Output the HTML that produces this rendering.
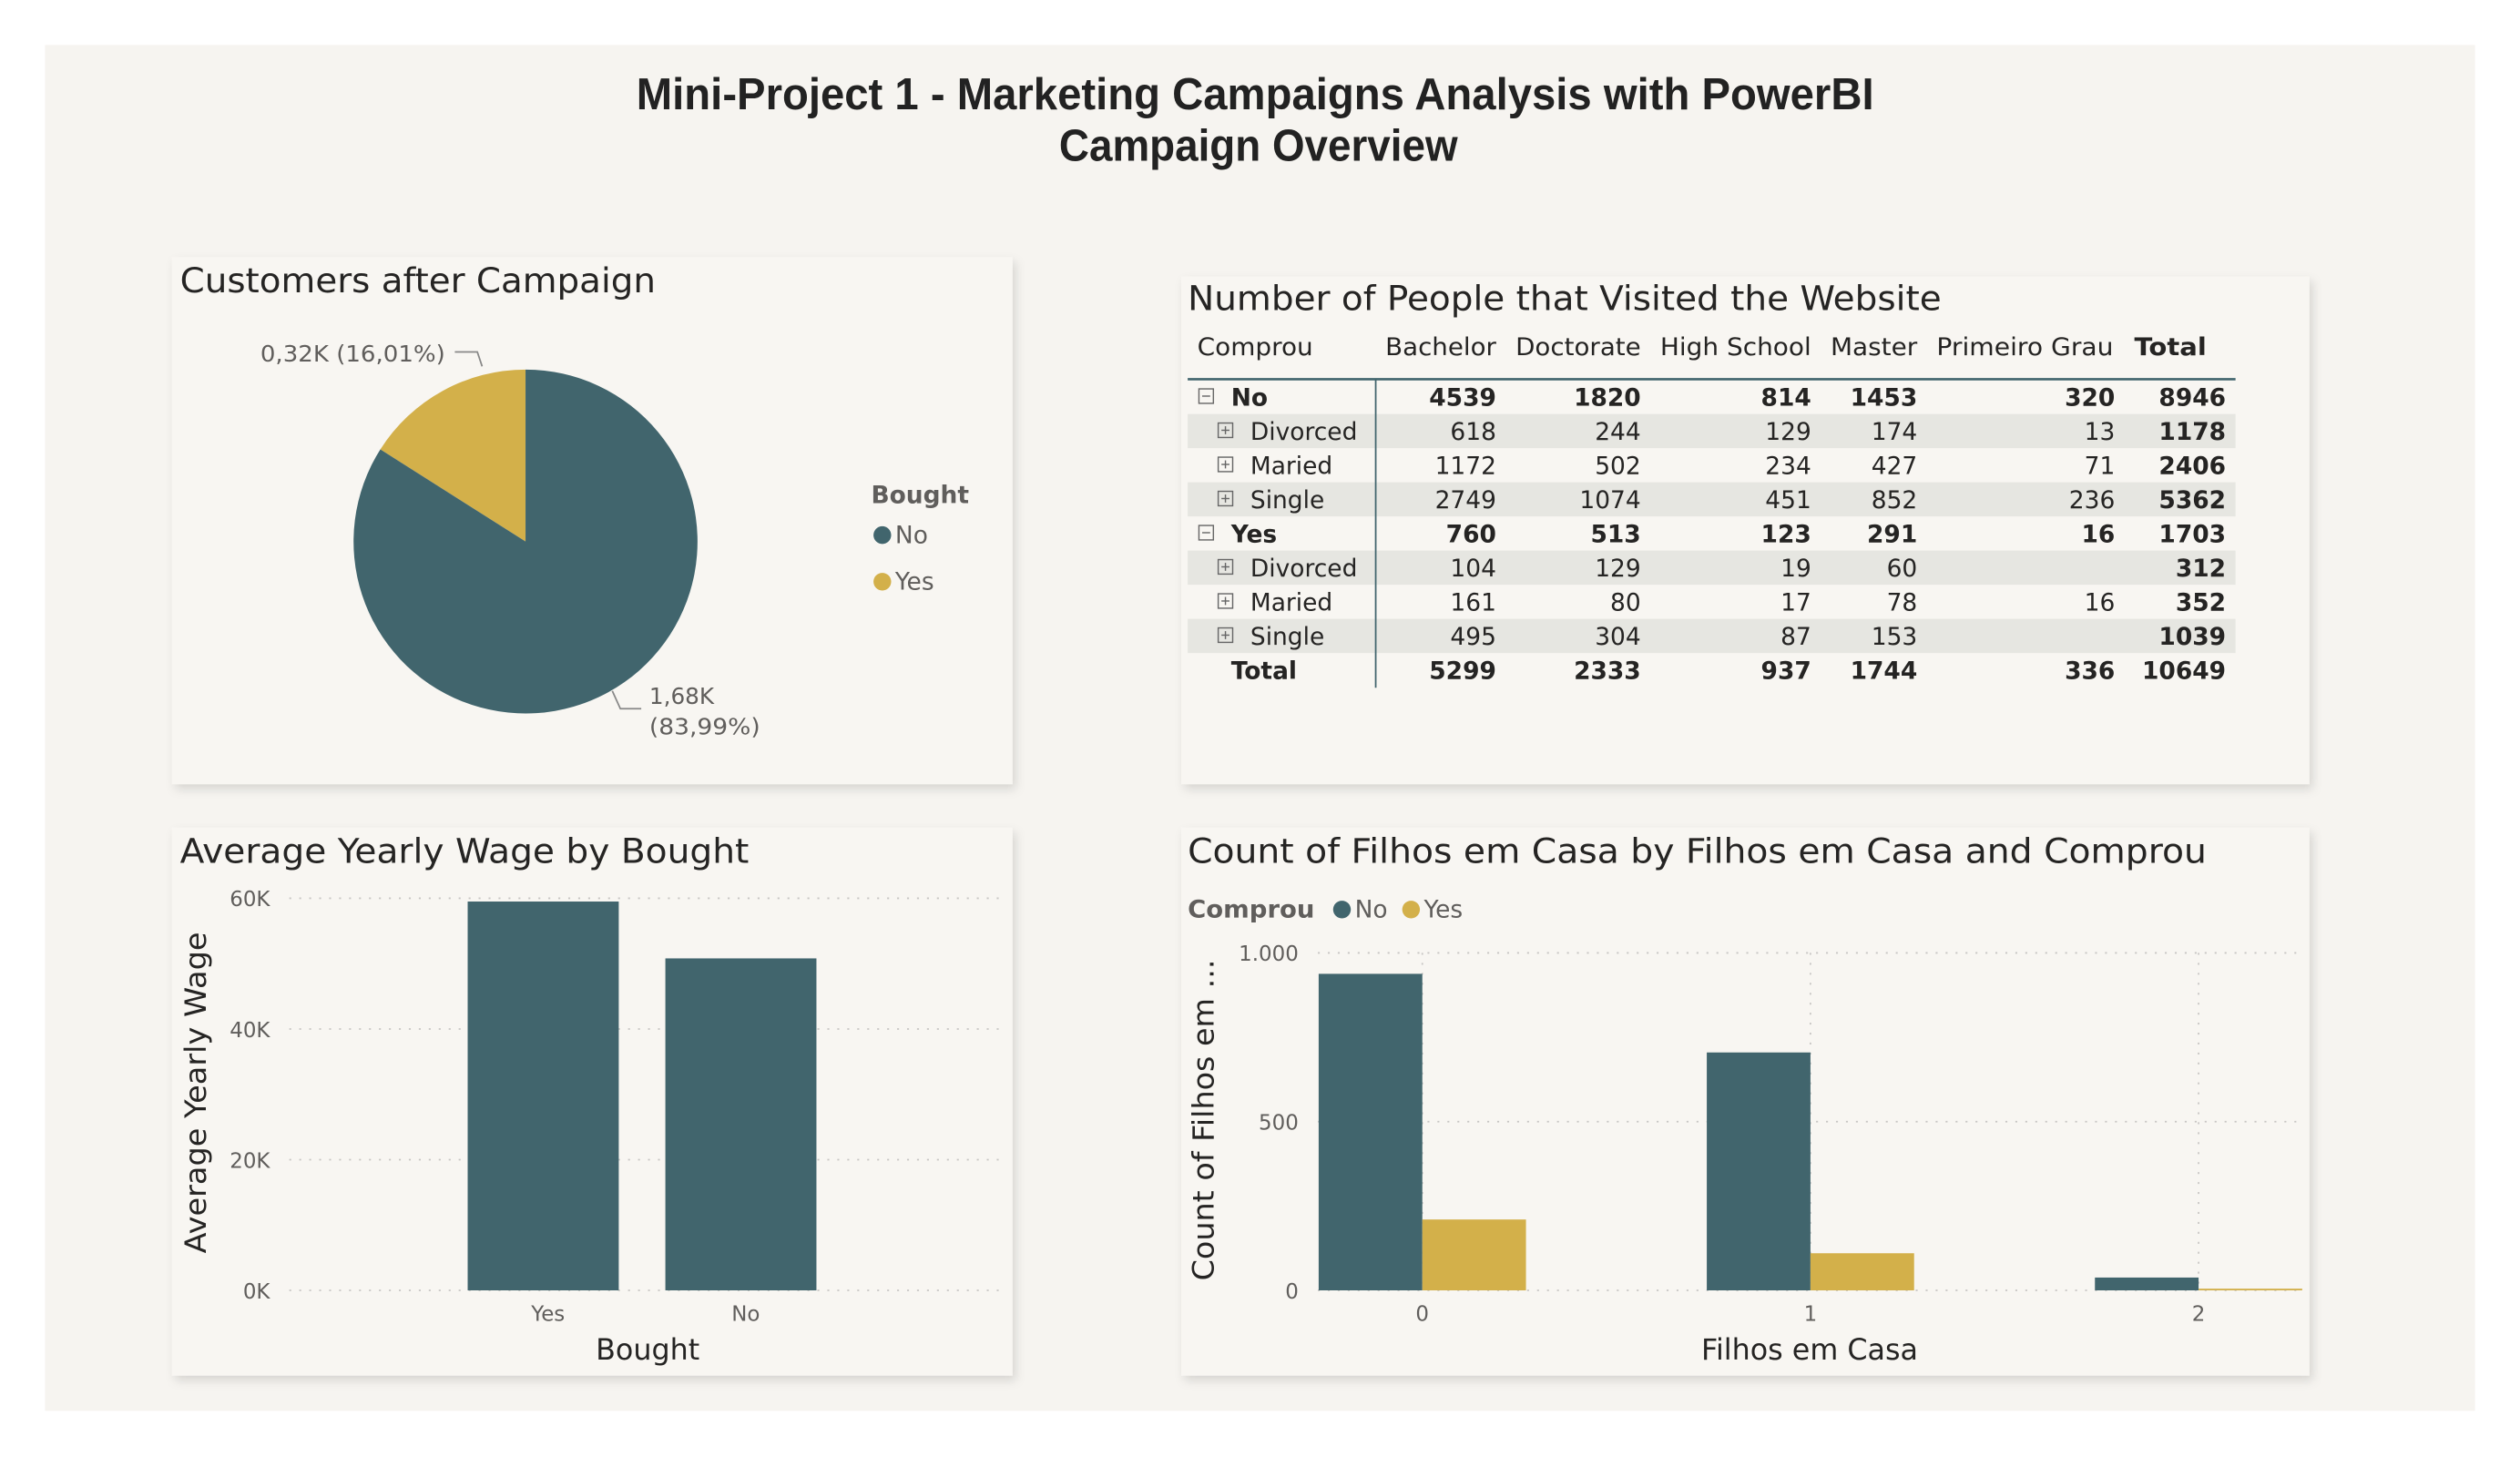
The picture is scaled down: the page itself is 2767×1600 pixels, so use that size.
<!DOCTYPE html>
<html><head><meta charset="utf-8">
<style>
html,body{margin:0;padding:0;background:#fff;width:2767px;height:1600px;overflow:hidden}
svg{display:block}
text{font-family:"Liberation Sans Narrow","Liberation Sans",sans-serif}
.dv{font-family:"DejaVu Sans","Liberation Sans",sans-serif}
</style></head><body>
<svg id="root" width="2767" height="1600" viewBox="0 0 1568 906.7" preserveAspectRatio="none">
<defs>
<filter id="sh" x="-5%" y="-5%" width="112%" height="115%"><feDropShadow dx="2" dy="3" stdDeviation="3" flood-color="#000" flood-opacity="0.13"/></filter>
</defs>
<rect x="0" y="0" width="1568" height="907" fill="#ffffff"/>
<rect x="28" y="28" width="1512" height="850" fill="#f6f4f0"/>
<g font-weight="bold" fill="#222" font-size="28" text-anchor="middle">
<text x="781" y="68" textLength="770" lengthAdjust="spacingAndGlyphs">Mini-Project 1 - Marketing Campaigns Analysis with PowerBI</text>
<text x="783" y="100" textLength="248" lengthAdjust="spacingAndGlyphs">Campaign Overview</text>
</g>

<rect x="107" y="160" width="523" height="328" fill="#f8f6f2" filter="url(#sh)"/>
<rect x="735" y="172" width="702" height="316" fill="#f8f6f2" filter="url(#sh)"/>
<rect x="107" y="515" width="523" height="341" fill="#f8f6f2" filter="url(#sh)"/>
<rect x="735" y="515" width="702" height="341" fill="#f8f6f2" filter="url(#sh)"/>

<text class="dv" x="112" y="182" font-size="21" fill="#252423" textLength="296" lengthAdjust="spacingAndGlyphs">Customers after Campaign</text>
<g id="pie"></g>
<g font-size="14" fill="#605e5c">
<text class="dv" x="162" y="225" textLength="115" lengthAdjust="spacingAndGlyphs">0,32K (16,01%)</text>
<text class="dv" x="404" y="438">1,68K</text>
<text class="dv" x="404" y="457" textLength="69" lengthAdjust="spacingAndGlyphs">(83,99%)</text>
</g>
<polyline points="283,219 297,219 300,228" fill="none" stroke="#888" stroke-width="1"/>
<polyline points="381,430 386,441 399,441" fill="none" stroke="#888" stroke-width="1"/>
<g>
<text class="dv" x="542" y="313" font-size="15" font-weight="bold" fill="#605e5c">Bought</text>
<circle cx="549" cy="333" r="5.5" fill="#41656d"/>
<text class="dv" x="557" y="338" font-size="15" fill="#605e5c">No</text>
<circle cx="549" cy="362" r="5.5" fill="#d3b04a"/>
<text class="dv" x="557" y="367" font-size="15" fill="#605e5c">Yes</text>
</g>

<text class="dv" x="739" y="193" font-size="21" fill="#252423" textLength="469" lengthAdjust="spacingAndGlyphs">Number of People that Visited the Website</text>
<g id="table"></g>

<text class="dv" x="112" y="537" font-size="21" fill="#252423" textLength="354" lengthAdjust="spacingAndGlyphs">Average Yearly Wage by Bought</text>
<g id="bar"></g>
<text class="dv" x="403" y="846" font-size="18" fill="#252423" text-anchor="middle">Bought</text>
<text class="dv" transform="translate(128,680) rotate(-90)" font-size="18" fill="#252423" text-anchor="middle" textLength="200" lengthAdjust="spacingAndGlyphs">Average Yearly Wage</text>

<text class="dv" x="739" y="537" font-size="21" fill="#252423" textLength="634" lengthAdjust="spacingAndGlyphs">Count of Filhos em Casa by Filhos em Casa and Comprou</text>
<g>
<text class="dv" x="739" y="571" font-size="15" font-weight="bold" fill="#605e5c" textLength="79" lengthAdjust="spacingAndGlyphs">Comprou</text>
<circle cx="835" cy="566" r="5.5" fill="#41656d"/>
<text class="dv" x="843" y="571" font-size="15" fill="#605e5c">No</text>
<circle cx="878" cy="566" r="5.5" fill="#d3b04a"/>
<text class="dv" x="886" y="571" font-size="15" fill="#605e5c">Yes</text>
</g>
<g id="col"></g>
<text class="dv" x="1126" y="846" font-size="18" fill="#252423" text-anchor="middle">Filhos em Casa</text>
<text class="dv" transform="translate(755,697) rotate(-90)" font-size="18" fill="#252423" text-anchor="middle" textLength="200" lengthAdjust="spacingAndGlyphs">Count of Filhos em ...</text>
</svg>
<script>
const pieLabels = ["Yes","No"];
const pieValues = [320, 1680];
const wageCats = ["Yes","No"];
const wageValues = [59500, 50800];
const wageTicks = [0, 20000, 40000, 60000];
const wageTickLabels = ["0K","20K","40K","60K"];
const filhosCats = ["0","1","2"];
const filhosNo = [938, 705, 38];
const filhosYes = [210, 110, 5];
const countTicks = [0, 500, 1000];
const countTickLabels = ["0","500","1.000"];
const tableCols = ["Bachelor","Doctorate","High School","Master","Primeiro Grau","Total"];
const tableRowLabels = ["No","Divorced","Maried","Single","Yes","Divorced","Maried","Single","Total"];
const tableRowLevel = [0,1,1,1,0,1,1,1,2];
const tableValues = [
 ["4539","1820","814","1453","320","8946"],
 ["618","244","129","174","13","1178"],
 ["1172","502","234","427","71","2406"],
 ["2749","1074","451","852","236","5362"],
 ["760","513","123","291","16","1703"],
 ["104","129","19","60","","312"],
 ["161","80","17","78","16","352"],
 ["495","304","87","153","","1039"],
 ["5299","2333","937","1744","336","10649"]
];

const NS="http://www.w3.org/2000/svg";
function mk(parent,tag,attrs,txt){const e=document.createElementNS(NS,tag);for(const k in attrs)e.setAttribute(k,attrs[k]);if(txt!==undefined)e.textContent=txt;parent.appendChild(e);return e;}
const TEAL="#41656d",GOLD="#d3b04a";

(function(){
 const g=document.getElementById('pie');
 const cx=327,cy=337,r=107;
 const total=pieValues.reduce((a,b)=>a+b,0);
 let start=-pieValues[0]/total*2*Math.PI;
 const cols=[GOLD,TEAL];
 for(let i=0;i<pieValues.length;i++){
  const ang=pieValues[i]/total*2*Math.PI;
  const a0=start-Math.PI/2,a1=start+ang-Math.PI/2;
  const x0=cx+r*Math.cos(a0),y0=cy+r*Math.sin(a0),x1=cx+r*Math.cos(a1),y1=cy+r*Math.sin(a1);
  const p=mk(g,'path',{d:`M${cx},${cy} L${x0},${y0} A${r},${r} 0 ${ang>Math.PI?1:0} 1 ${x1},${y1} Z`,fill:cols[i]});
  
  
  start+=ang;
 }
})();

(function(){
 const g=document.getElementById('bar');
 const y0=803,yTop=559,maxV=60000;
 const y=v=>y0-(v/maxV)*(y0-yTop);
 wageTicks.forEach((t,i)=>{
  const l=mk(g,'line',{x1:180,x2:622,y1:y(t),y2:y(t),stroke:'#c8c6c4','stroke-width':1,'stroke-dasharray':'1.2 5'});
  
  
  const tx=mk(g,'text',{x:168,y:y(t)+5,'font-size':13,fill:'#605e5c','text-anchor':'end',class:'dv'},wageTickLabels[i]);
  
  
 });
 const centers=[338,461],bw=94;
 wageCats.forEach((c,i)=>{
  const b=mk(g,'rect',{x:centers[i]-bw/2,y:y(wageValues[i]),width:bw,height:y0-y(wageValues[i]),fill:TEAL});
  
  
  const tx=mk(g,'text',{x:centers[i]+3,y:822,'font-size':13,fill:'#605e5c','text-anchor':'middle',class:'dv'},c);
  
  
 });
})();

(function(){
 const g=document.getElementById('col');
 const y0=803,yTop=593,maxV=1000;
 const y=v=>y0-(v/maxV)*(y0-yTop);
 countTicks.forEach((t,i)=>{
  const l=mk(g,'line',{x1:820,x2:1432,y1:y(t),y2:y(t),stroke:'#c8c6c4','stroke-width':1,'stroke-dasharray':'1.2 5'});
  
  
  const tx=mk(g,'text',{x:808,y:y(t)+5,'font-size':13,fill:'#605e5c','text-anchor':'end',class:'dv'},countTickLabels[i]);
  
  
 });
 const c0=885,step=241.5,bw=64.5;
 filhosCats.forEach((c,i)=>{
  const cx=c0+i*step;
  const vl=mk(g,'line',{x1:cx,x2:cx,y1:yTop,y2:y0,stroke:'#c8c6c4','stroke-width':1,'stroke-dasharray':'1.2 5'});
  
  
  const bn=mk(g,'rect',{x:cx-bw,y:y(filhosNo[i]),width:bw,height:y0-y(filhosNo[i]),fill:TEAL});
  
  
  const by=mk(g,'rect',{x:cx,y:y(filhosYes[i]),width:bw,height:Math.max(1,y0-y(filhosYes[i])),fill:GOLD});
  
  
  const tx=mk(g,'text',{x:cx,y:822,'font-size':13,fill:'#605e5c','text-anchor':'middle',class:'dv'},c);
  
  
 });
})();

(function(){
 const g=document.getElementById('table');
 const right=[931,1021,1127,1193,1316,1385];
 const hdrX=[862,943,1033,1139,1205,1328];
 const hdrW=[69,78,94,54,110,45];
 const h=mk(g,'text',{x:745,y:221,'font-size':15,fill:'#252423',class:'dv',textLength:72,lengthAdjust:'spacingAndGlyphs'},'Comprou');
 
 
 tableCols.forEach((c,i)=>{
  const t=mk(g,'text',{x:hdrX[i],y:221,'font-size':15,fill:'#252423',class:'dv','font-weight':i===5?'bold':'normal',textLength:hdrW[i],lengthAdjust:'spacingAndGlyphs'},c);
  
  
 });
 const rowH=21.25,firstY=247;
 tableRowLabels.forEach((lab,r)=>{
  const cy=firstY+r*rowH;
  if(r===1||r===3||r===5||r===7){
   const bg=mk(g,'rect',{x:739,y:cy-rowH/2,width:652,height:rowH,fill:'#e6e6e1'});
   
   
  }
  const lvl=tableRowLevel[r];
  const bold=lvl!==1;
  if(lvl<2){
   const ix=lvl===0?746:758;
   const box=mk(g,'rect',{x:ix,y:cy-5,width:9,height:9,fill:'none',stroke:'#666','stroke-width':0.8});
   
   
   mk(g,'line',{x1:ix+2,x2:ix+7,y1:cy-0.5,y2:cy-0.5,stroke:'#666','stroke-width':0.8});
   if(lvl===1) mk(g,'line',{x1:ix+4.5,x2:ix+4.5,y1:cy-3,y2:cy+2,stroke:'#666','stroke-width':0.8});
  }
  const lx=lvl===1?778:766;
  const t=mk(g,'text',{x:lx,y:cy+5.5,'font-size':15,fill:'#252423',class:'dv','font-weight':bold?'bold':'normal'},lab);
  
  
  tableValues[r].forEach((v,c)=>{
   const cell=mk(g,'text',{x:right[c],y:cy+5.5,'font-size':15,fill:'#252423',class:'dv','text-anchor':'end','font-weight':(bold||c===5)?'bold':'normal'},v);
   
   
  });
 });
 const hl=mk(g,'line',{x1:739,x2:1391,y1:236,y2:236,stroke:'#41656d','stroke-width':1.5});
 
 
 const vl=mk(g,'line',{x1:856,x2:856,y1:236,y2:428,stroke:'#41656d','stroke-width':1});
 
 
})();
</script>
</body></html>
